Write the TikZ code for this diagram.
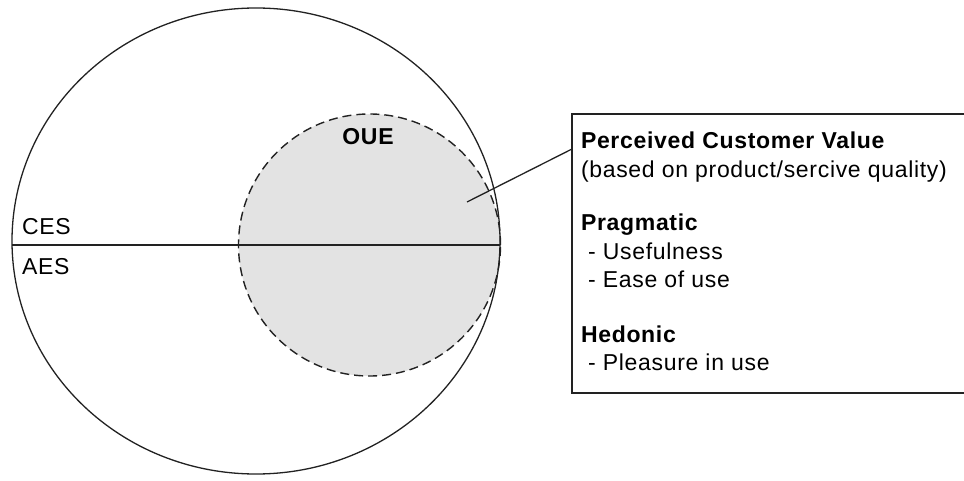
\documentclass[tikz,border=0pt]{standalone}
\usepackage{fontspec}
\setmainfont[LetterSpace=3]{Liberation Sans}
\usetikzlibrary{shapes.geometric}
\definecolor{inkline}{RGB}{34,34,34}
\definecolor{fillgray}{RGB}{227,227,227}
\begin{document}
\begin{tikzpicture}[x=1pt,y=-1pt,
  every node/.style={inner sep=0pt, outer sep=0pt},
  txt/.style={font=\fontsize{23}{28.5}\selectfont, text=black},
  outline/.style={draw=inkline, line width=1.3pt},
  expbox/.style={outline, ellipse, minimum width=488pt, minimum height=466pt},
  ouebox/.style={circle, fill=fillgray, draw=inkline, line width=1.4pt,
                 dash pattern=on 9pt off 5pt, minimum size=262pt},
  framebox/.style={outline, rectangle, minimum width=430pt, minimum height=279pt},
  link/.style={draw=inkline, line width=1.3pt}]
  \useasboundingbox (0,0) rectangle (964,481);
  \clip (0,0) rectangle (964,481);

  % overall user experience, shaded circle
  \node[ouebox] (oue) at (369.5,245) {};
  \node[txt, font=\fontsize{23}{28.5}\selectfont\bfseries] (ouelabel) at (368,137) {OUE};

  % outer experience space
  \node[expbox] (big) at (256,241) {};
  \draw[link] (oue.center -| big.west) -- (oue.center -| big.east);
  \node[txt, anchor=base west] (ces) at (22,235) {CES};
  \node[txt, anchor=base west] (aes) at (22,274) {AES};

  % value description box
  \node[framebox, anchor=north west] (info) at (572,114) {};
  \node[txt, align=left, anchor=north west] (infotext) at (581,132) {%
    \textbf{Perceived Customer Value}\\
    (based on product/sercive quality)\\[25pt]
    \textbf{Pragmatic}\\
    \ - Usefulness\\
    \ - Ease of use\\[26pt]
    \textbf{Hedonic}\\
    \ - Pleasure in use};

  \coordinate (valpt) at (467,202);
  \draw[link] (valpt) -- ([yshift=-35pt]info.north west);
\end{tikzpicture}
\end{document}
